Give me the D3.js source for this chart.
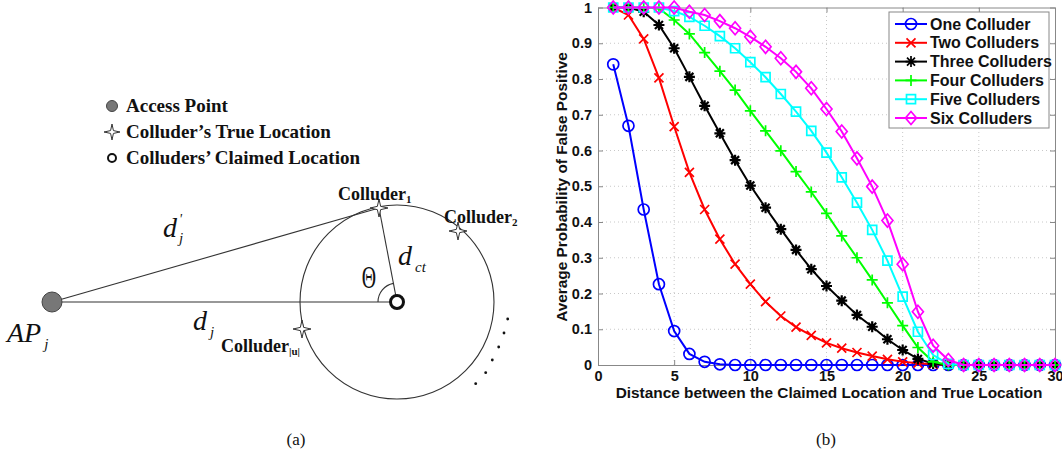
<!DOCTYPE html>
<html lang="en">
<head>
<meta charset="UTF-8">
<title>Colluder diagram and false positive chart</title>
<script src="https://d3js.org/d3.v7.min.js"></script>
<style>
  body { margin: 0; background: #fff; }
  svg { display: block; }
  .serif { font-family: "Liberation Serif", "Times New Roman", serif; }
  .sans { font-family: "Liberation Sans", Arial, sans-serif; font-weight: bold; }
</style>
</head>
<body>
<script>
// ---- chart data (panel b) ----
const distances = d3.range(1, 31);
const seriesNames = ["One Colluder", "Two Colluders", "Three Colluders", "Four Colluders", "Five Colluders", "Six Colluders"];
const seriesColors = ["#0000ff", "#ff0000", "#000000", "#00ff00", "#00ffff", "#ff00ff"];
const seriesMarkers = ["circle", "x", "star", "plus", "square", "diamond"];

const oneColluder = [0.841, 0.669, 0.435, 0.226, 0.095, 0.031, 0.009, 0.002, 0, 0, 0, 0, 0, 0, 0, 0, 0, 0, 0, 0, 0, 0, 0, 0, 0, 0, 0, 0, 0, 0];
const twoColluders = [1.0, 0.979, 0.912, 0.803, 0.667, 0.539, 0.435, 0.352, 0.282, 0.226, 0.177, 0.137, 0.106, 0.083, 0.062, 0.047, 0.035, 0.025, 0.016, 0.009, 0.005, 0.002, 0, 0, 0, 0, 0, 0, 0, 0];
const threeColluders = [1.0, 1.0, 0.988, 0.951, 0.886, 0.806, 0.725, 0.648, 0.573, 0.502, 0.440, 0.380, 0.322, 0.268, 0.221, 0.180, 0.140, 0.107, 0.072, 0.042, 0.017, 0.004, 0, 0, 0, 0, 0, 0, 0, 0];
const fourColluders = [1.0, 1.0, 1.0, 0.997, 0.965, 0.926, 0.874, 0.822, 0.769, 0.711, 0.655, 0.599, 0.541, 0.484, 0.424, 0.361, 0.300, 0.238, 0.174, 0.110, 0.049, 0.009, 0, 0, 0, 0, 0, 0, 0, 0];
const fiveColluders = [1.0, 1.0, 1.0, 1.0, 0.99, 0.974, 0.949, 0.920, 0.886, 0.847, 0.805, 0.758, 0.709, 0.655, 0.594, 0.525, 0.454, 0.378, 0.292, 0.191, 0.093, 0.028, 0.003, 0, 0, 0, 0, 0, 0, 0];
const sixColluders = [1.0, 1.0, 1.0, 1.0, 1.0, 0.988, 0.979, 0.962, 0.942, 0.918, 0.890, 0.858, 0.820, 0.774, 0.716, 0.653, 0.578, 0.499, 0.404, 0.282, 0.149, 0.054, 0.014, 0, 0, 0, 0, 0, 0, 0];
const seriesValues = [oneColluder, twoColluders, threeColluders, fourColluders, fiveColluders, sixColluders];

const xTicks = [0, 5, 10, 15, 20, 25, 30];
const yTicks = [0, 0.1, 0.2, 0.3, 0.4, 0.5, 0.6, 0.7, 0.8, 0.9, 1];
const yTickLabels = ["0", "0.1", "0.2", "0.3", "0.4", "0.5", "0.6", "0.7", "0.8", "0.9", "1"];

// ---- diagram (panel a) ----
const legendA = [
  {kind: "ap", text: "Access Point"},
  {kind: "star", text: "Colluder\u2019s True Location"},
  {kind: "ring", text: "Colluders\u2019 Claimed Location"}
];
const apPoint = [52, 302];
const claimedPoint = [397, 302];
const ringRadius = 97;
const colluders = [
  {name: "Colluder", sub: "1", pos: [379, 208], label: [338, 200]},
  {name: "Colluder", sub: "2", pos: [458, 231], label: [444, 223]},
  {name: "Colluder", sub: "|u|", pos: [302, 329], label: [221, 352]}
];
const dots = [[507.7, 319], [504, 333], [498.7, 347], [492.3, 360], [485.7, 372.7], [475.7, 383.7]];

const W = 1062, H = 461;
const svg = d3.select("body").append("svg").attr("width", W).attr("height", H);

// ================= panel (a) =================
const ga = svg.append("g");

function starPath(cx, cy, r, ri) {
  const pts = [];
  for (let i = 0; i < 8; i++) {
    const a = i * Math.PI / 4 - Math.PI / 2;
    const rr = i % 2 === 0 ? r : ri;
    pts.push([cx + rr * Math.cos(a), cy + rr * Math.sin(a)]);
  }
  return "M" + pts.map(p => p.join(",")).join("L") + "Z";
}

legendA.forEach((d, i) => {
  const y = 106 + i * 26;
  if (d.kind === "ap") {
    ga.append("circle").attr("cx", 112).attr("cy", y).attr("r", 5.5)
      .attr("fill", "#777").attr("stroke", "#444").attr("stroke-width", 1);
  } else if (d.kind === "star") {
    ga.append("path").attr("d", starPath(112, y, 8, 2)).attr("fill", "#fff")
      .attr("stroke", "#333").attr("stroke-width", 1);
  } else {
    ga.append("circle").attr("cx", 112).attr("cy", y).attr("r", 4)
      .attr("fill", "none").attr("stroke", "#111").attr("stroke-width", 2);
  }
  ga.append("text").attr("class", "serif").attr("x", 126).attr("y", y + 6)
    .attr("font-size", 19).attr("font-weight", "bold").attr("fill", "#111").text(d.text);
});

// ring of radius d_ct
ga.append("circle").attr("cx", claimedPoint[0]).attr("cy", claimedPoint[1]).attr("r", ringRadius)
  .attr("fill", "none").attr("stroke", "#333").attr("stroke-width", 1.1);

// lines
ga.append("line").attr("x1", apPoint[0]).attr("y1", apPoint[1]).attr("x2", claimedPoint[0]).attr("y2", claimedPoint[1])
  .attr("stroke", "#333").attr("stroke-width", 1.1);
ga.append("line").attr("x1", apPoint[0]).attr("y1", apPoint[1]).attr("x2", colluders[0].pos[0]).attr("y2", colluders[0].pos[1])
  .attr("stroke", "#333").attr("stroke-width", 1.1);
ga.append("line").attr("x1", claimedPoint[0]).attr("y1", claimedPoint[1]).attr("x2", colluders[0].pos[0]).attr("y2", colluders[0].pos[1])
  .attr("stroke", "#333").attr("stroke-width", 1.1);

// angle arc
const ang1 = Math.atan2(colluders[0].pos[0] - claimedPoint[0], -(colluders[0].pos[1] - claimedPoint[1]));
ga.append("path")
  .attr("transform", `translate(${claimedPoint})`)
  .attr("d", d3.arc()({innerRadius: 19, outerRadius: 19, startAngle: -Math.PI / 2, endAngle: ang1}))
  .attr("fill", "none").attr("stroke", "#333").attr("stroke-width", 1.1);

// AP
ga.append("circle").attr("cx", apPoint[0]).attr("cy", apPoint[1]).attr("r", 10)
  .attr("fill", "#777").attr("stroke", "#444").attr("stroke-width", 1);
ga.append("circle").attr("cx", claimedPoint[0]).attr("cy", claimedPoint[1]).attr("r", 6.5)
  .attr("fill", "#fff").attr("stroke", "#111").attr("stroke-width", 3);

// colluders
colluders.forEach(c => {
  ga.append("path").attr("d", starPath(c.pos[0], c.pos[1], 9, 2.3)).attr("fill", "#fff")
    .attr("stroke", "#333").attr("stroke-width", 1);
  const t = ga.append("text").attr("class", "serif").attr("x", c.label[0]).attr("y", c.label[1])
    .attr("font-size", 18).attr("font-weight", "bold").attr("fill", "#111");
  t.append("tspan").text(c.name);
  t.append("tspan").attr("font-size", 11).attr("dy", 3).text(c.sub);
});

dots.forEach(p => ga.append("circle").attr("cx", p[0]).attr("cy", p[1]).attr("r", 1.4).attr("fill", "#111"));

// math labels
function mathLabel(x, y, main, sub, prime) {
  const t = ga.append("text").attr("class", "serif").attr("x", x).attr("y", y)
    .attr("font-size", 28).attr("font-style", "italic").attr("fill", "#111");
  t.append("tspan").text(main);
  if (prime) t.append("tspan").attr("font-size", 14).attr("dy", -13).attr("dx", 2).text("'");
  t.append("tspan").attr("font-size", 15).attr("dy", prime ? 19 : 7).attr("dx", prime ? -3 : 3).text(sub);
}
mathLabel(163, 237, "d", "j", true);
mathLabel(193, 330, "d", "j", false);
mathLabel(398, 265, "d", "ct", false);
mathLabel(7, 342, "AP", "j", false);

ga.append("text").attr("class", "serif").attr("transform", "translate(369,288) scale(0.62,1)")
  .attr("text-anchor", "middle").attr("font-size", 32).attr("fill", "#111").text("\u0398");

ga.append("text").attr("class", "serif").attr("x", 296).attr("y", 445).attr("text-anchor", "middle")
  .attr("font-size", 17).attr("fill", "#111").text("(a)");

// ================= panel (b) =================
const x = d3.scaleLinear().domain([0, 30]).range([598, 1055]);
const y = d3.scaleLinear().domain([0, 1]).range([365, 7.5]);
const gb = svg.append("g");

// grid
gb.append("g").selectAll("line").data(xTicks.slice(1, -1)).join("line")
  .attr("x1", d => x(d)).attr("x2", d => x(d)).attr("y1", y(0)).attr("y2", y(1))
  .attr("stroke", "#c8c8c8").attr("stroke-dasharray", "1,3");
gb.append("g").selectAll("line").data(yTicks.slice(1, -1)).join("line")
  .attr("y1", d => y(d)).attr("y2", d => y(d)).attr("x1", x(0)).attr("x2", x(30))
  .attr("stroke", "#c8c8c8").attr("stroke-dasharray", "1,3");

// axes (box with inward ticks)
function styleAxis(g, labels) {
  g.selectAll(".domain").attr("stroke", "#888");
  g.selectAll(".tick line").attr("stroke", "#888");
  g.selectAll(".tick text").attr("class", "sans").attr("font-size", 14.5).attr("fill", "#111");
  if (!labels) g.selectAll(".tick text").remove();
}
gb.append("g").attr("transform", `translate(0,${y(0)})`)
  .call(d3.axisBottom(x).tickValues(xTicks).tickSizeInner(-5).tickSizeOuter(0).tickPadding(6))
  .call(g => styleAxis(g, true));
gb.append("g").attr("transform", `translate(0,${y(1)})`)
  .call(d3.axisTop(x).tickValues(xTicks).tickSizeInner(-5).tickSizeOuter(0))
  .call(g => styleAxis(g, false));
gb.append("g").attr("transform", `translate(${x(0)},0)`)
  .call(d3.axisLeft(y).tickValues(yTicks).tickFormat((d, i) => yTickLabels[i]).tickSizeInner(-5).tickSizeOuter(0).tickPadding(6))
  .call(g => styleAxis(g, true));
gb.append("g").attr("transform", `translate(${x(30)},0)`)
  .call(d3.axisRight(y).tickValues(yTicks).tickSizeInner(-5).tickSizeOuter(0))
  .call(g => styleAxis(g, false));

// markers
function markerPath(type) {
  switch (type) {
    case "circle": return d3.symbol(d3.symbolCircle, 95)();
    case "x": return "M-4.5,-4.5L4.5,4.5M-4.5,4.5L4.5,-4.5";
    case "star": return "M-5.5,0L5.5,0M0,-5.5L0,5.5M-4,-4L4,4M-4,4L4,-4";
    case "plus": return "M-5.5,0L5.5,0M0,-5.5L0,5.5";
    case "square": return "M-4.5,-4.5H4.5V4.5H-4.5Z";
    case "diamond": return "M0,-6.5L5.5,0L0,6.5L-5.5,0Z";
  }
}

const line = d3.line().x((d, i) => x(distances[i])).y(d => y(d));
seriesValues.forEach((vals, s) => {
  const g = gb.append("g");
  g.append("path").attr("d", line(vals)).attr("fill", "none")
    .attr("stroke", seriesColors[s]).attr("stroke-width", 2);
  g.selectAll("path.m").data(vals).join("path").attr("class", "m")
    .attr("transform", (d, i) => `translate(${x(distances[i])},${y(d)})`)
    .attr("d", markerPath(seriesMarkers[s])).attr("fill", "none")
    .attr("stroke", seriesColors[s]).attr("stroke-width", s === 2 ? 2.2 : 1.7);
});

// legend
const lg = gb.append("g");
lg.append("rect").attr("x", 889).attr("y", 12).attr("width", 160).attr("height", 116)
  .attr("fill", "#fff").attr("stroke", "#888").attr("stroke-width", 1);
seriesNames.forEach((n, i) => {
  const ly = 24 + i * 18.8;
  lg.append("line").attr("x1", 895).attr("x2", 927).attr("y1", ly).attr("y2", ly)
    .attr("stroke", seriesColors[i]).attr("stroke-width", 2);
  lg.append("path").attr("transform", `translate(911,${ly})`).attr("d", markerPath(seriesMarkers[i]))
    .attr("fill", "none").attr("stroke", seriesColors[i]).attr("stroke-width", 1.7);
  lg.append("text").attr("class", "sans").attr("x", 930).attr("y", ly + 5.5)
    .attr("font-size", 16).attr("fill", "#111").text(n);
});

// axis labels
gb.append("text").attr("class", "sans").attr("x", 829).attr("y", 398).attr("text-anchor", "middle")
  .attr("font-size", 15.4).attr("fill", "#111").text("Distance between the Claimed Location and True Location");
gb.append("text").attr("class", "sans").attr("transform", "translate(567,187) rotate(-90)")
  .attr("text-anchor", "middle").attr("font-size", 15.4).attr("fill", "#111")
  .text("Average Probability of False Positive");

svg.append("text").attr("class", "serif").attr("x", 826).attr("y", 445).attr("text-anchor", "middle")
  .attr("font-size", 17).attr("fill", "#111").text("(b)");
</script>
</body>
</html>
